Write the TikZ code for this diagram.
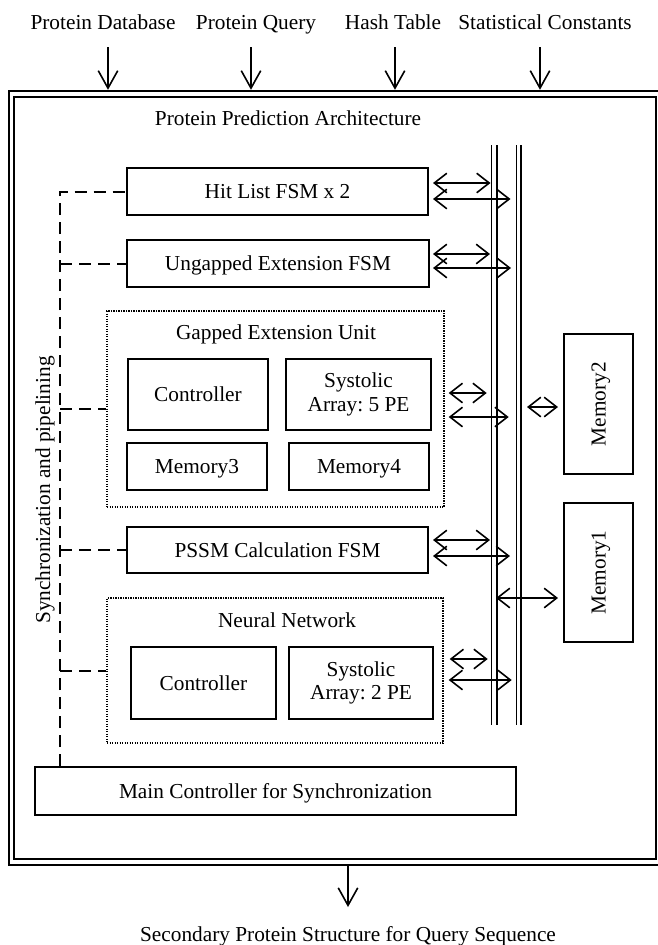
\documentclass[tikz,border=0pt]{standalone}
\usepackage{fontspec}
\setmainfont{Liberation Serif}
\usetikzlibrary{arrows.meta,calc}
\frenchspacing
\begin{document}
\begin{tikzpicture}[x=1pt,y=-1pt,
  every node/.style={font=\fontsize{21.3}{23.5}\selectfont, inner sep=0pt},
  box/.style={draw, line width=2pt, text height=14pt, text depth=0pt, align=center},
  mbox/.style={draw, line width=2pt, align=center},
  dotbox/.style={draw, line width=1.4pt, dash pattern=on 1.3pt off 1.2pt},
  bus/.style={line width=1.6pt},
  darr/.style={line width=1.6pt, >={Straight Barb[length=12.5pt,width=19.5pt]}, <->},
  varr/.style={line width=1.6pt, >={Straight Barb[length=17.5pt,width=19.5pt]}, ->},
  dsh/.style={line width=2pt, dash pattern=on 12pt off 7pt}
]
\useasboundingbox (0,0) rectangle (658,945);

% outer double frame
\node[draw, line width=2.4pt, minimum width=652pt, minimum height=774pt] (outer) at (335,478) {};
\node[draw, line width=1.6pt, minimum width=642pt, minimum height=762pt] (inner) at (335,478) {};

% input labels and arrows
\node[anchor=base] (pd) at (103,29) {Protein Database};
\node[anchor=base] (pq) at (256,29) {Protein Query};
\node[anchor=base] (ht) at (393,29) {Hash Table};
\node[anchor=base] (sc) at (545,29) {Statistical Constants};
\coordinate (a1) at (108,47);
\coordinate (a2) at (251,47);
\coordinate (a3) at (395,47);
\coordinate (a4) at (540,47);
\draw[varr] (a1) -- (a1 |- outer.north);
\draw[varr] (a2) -- (a2 |- outer.north);
\draw[varr] (a3) -- (a3 |- outer.north);
\draw[varr] (a4) -- (a4 |- outer.north);

\node[anchor=base] (title) at (288,125) {Protein Prediction Architecture};

% bus lines
\coordinate (b1a) at (491.5,145);
\coordinate (b1b) at (497,145);
\coordinate (b2a) at (516.5,145);
\coordinate (b2b) at (521,145);
\draw[bus] (b1a) -- ++(0,580);
\draw[bus] (b1b) -- ++(0,580);
\draw[bus] (b2a) -- ++(0,580);
\draw[bus] (b2b) -- ++(0,580);

% blocks
\node[box, minimum width=301pt, minimum height=47pt] (hit) at (277.5,191.5) {Hit List FSM x 2};
\node[box, minimum width=302pt, minimum height=47pt] (ung) at (278,263.5) {Ungapped Extension FSM};

\node[dotbox, minimum width=337pt, minimum height=196pt] (gap) at (275.5,409) {};
\node[anchor=base] (gapt) at (276,339) {Gapped Extension Unit};
\node[box, minimum width=140pt, minimum height=71pt] (gctl) at (198,394.5) {Controller};
\node[mbox, minimum width=145pt, minimum height=71pt] (gsys) at (358.5,394.5) {Systolic\\Array: 5 PE};
\node[box, minimum width=140pt, minimum height=47pt] (mem3) at (197,466.5) {Memory3};
\node[box, minimum width=140pt, minimum height=47pt] (mem4) at (359,466.5) {Memory4};

\node[box, minimum width=301pt, minimum height=46pt] (pssm) at (277.5,550) {PSSM Calculation FSM};

\node[dotbox, minimum width=336pt, minimum height=145pt] (nn) at (275,670.5) {};
\node[anchor=base] (nnt) at (287,627) {Neural Network};
\node[box, minimum width=145pt, minimum height=72pt] (nctl) at (203.5,683) {Controller};
\node[mbox, minimum width=144pt, minimum height=72pt] (nsys) at (361,683) {Systolic\\Array: 2 PE};

\node[box, minimum width=481pt, minimum height=48pt] (main) at (275.5,791) {Main Controller for Synchronization};

\node[box, rotate=90, minimum width=140pt, minimum height=69pt] (mem2) at (598.5,404) {Memory2};
\node[box, rotate=90, minimum width=139pt, minimum height=69pt] (mem1) at (598.5,572.5) {Memory1};

% synchronization label
\node[anchor=base, rotate=90] (sync) at (50,490) {Synchronization and pipelining};

% dashed synchronization lines
\coordinate (dx) at (60,191.5);
\draw[dsh] (main.north -| dx) -- (dx) -- (hit.west);
\draw[dsh] (ung.west -| dx) -- (ung.west);
\draw[dsh] (gap.west -| dx) -- (gap.west);
\draw[dsh] (pssm.west -| dx) -- (pssm.west);
\draw[dsh] (nn.west -| dx) -- (nn.west);

% bus arrows
\draw[darr] ($(hit.east)+(4,-8.5)$) -- ($(hit.east)+(61.5,-8.5)$);
\draw[darr] ($(hit.east)+(4,7.5)$) -- ($(hit.east)+(81.5,7.5)$);
\draw[darr] ($(ung.east)+(3,-9.5)$) -- ($(ung.east)+(60,-9.5)$);
\draw[darr] ($(ung.east)+(3,4.5)$) -- ($(ung.east)+(81,4.5)$);
\draw[darr] ($(gap.east)+(4,-16)$) -- ($(gap.east)+(42,-16)$);
\draw[darr] ($(gap.east)+(4,8)$) -- ($(gap.east)+(64,8)$);
\draw[darr] ($(pssm.east)+(4,-10)$) -- ($(pssm.east)+(61,-10)$);
\draw[darr] ($(pssm.east)+(4,6)$) -- ($(pssm.east)+(81,6)$);
\draw[darr] ($(nn.east)+(6,-11.5)$) -- ($(nn.east)+(44,-11.5)$);
\draw[darr] ($(nn.east)+(5,9.5)$) -- ($(nn.east)+(68,9.5)$);
\draw[darr] ($(mem2.north)+(-36,3)$) -- ($(mem2.north)+(-5,3)$);
\draw[darr] ($(mem1.north)+(-67,25.5)$) -- ($(mem1.north)+(-5,25.5)$);

% output
\node[anchor=base] (out) at (348,941) {Secondary Protein Structure for Query Sequence};
\coordinate (o1) at (348,907);
\draw[varr] (o1 |- outer.south) -- (o1);
\end{tikzpicture}
\end{document}
